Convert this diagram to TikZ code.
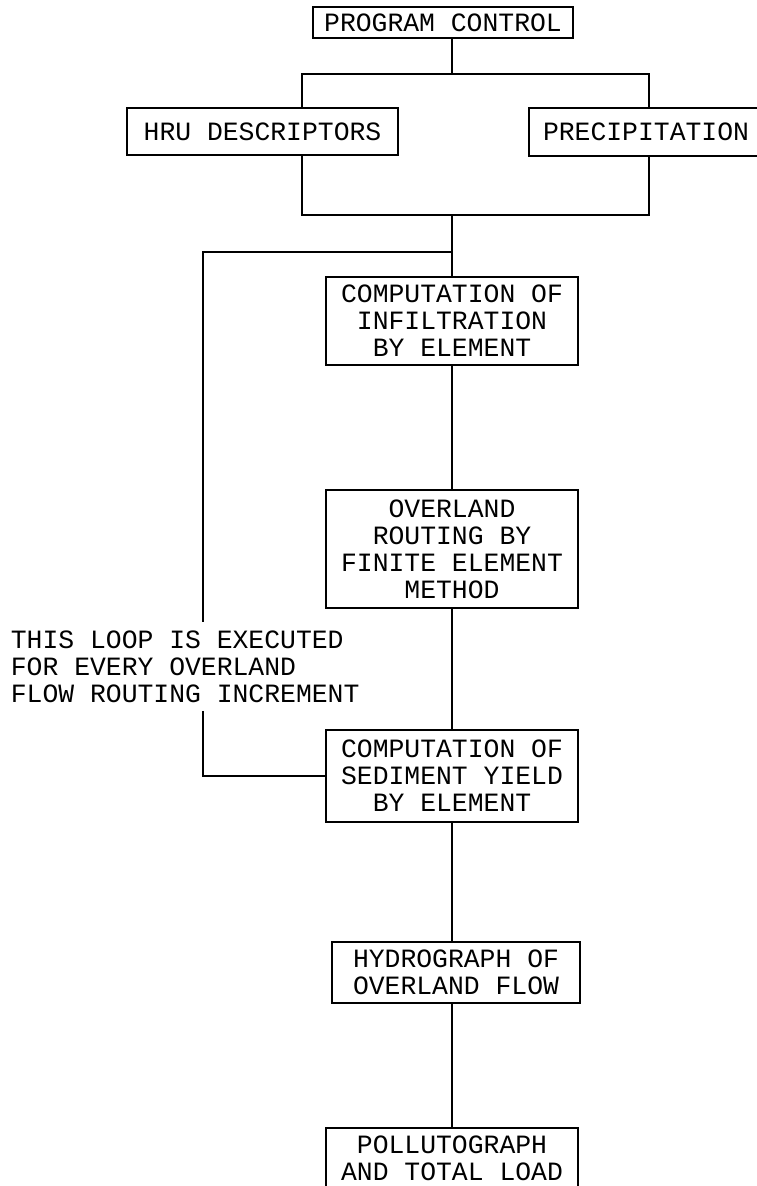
\documentclass[tikz,border=0pt]{standalone}
\usepackage{fontspec}
\newfontfamily\typewriterfont{Liberation Mono}
\usetikzlibrary{positioning}

\begin{document}
\begin{tikzpicture}[
    x=1pt, y=1pt,
    line width=1.8pt,
    every node/.style={font=\typewriterfont\fontsize{26.4}{27}\selectfont},
    stepbox/.style={draw, align=center, inner xsep=4pt, inner ysep=3pt, outer sep=0pt, minimum width=252pt}
]
\useasboundingbox (0,0) rectangle (756,-1186);

% Define nodes
\node (ctrl) [stepbox, minimum width=260pt, minimum height=31pt] at (443,-22.5) {PROGRAM CONTROL};
\node (hru) [stepbox, minimum width=271pt, minimum height=47pt, below=70pt of ctrl, xshift=-180.5pt] {HRU DESCRIPTORS};
\node (precip) [stepbox, minimum width=234pt, minimum height=48pt, below=70pt of ctrl, xshift=203pt] {PRECIPITATION};

\node (infil) [stepbox, minimum height=88pt] at (452,-321) {COMPUTATION OF\\INFILTRATION\\BY ELEMENT};
\node (overland) [stepbox, minimum height=118pt, below=125pt of infil] {OVERLAND\\ROUTING BY\\FINITE ELEMENT\\METHOD};
\node (sediment) [stepbox, minimum height=92pt, below=122pt of overland] {COMPUTATION OF\\SEDIMENT YIELD\\BY ELEMENT};
\node (hydro) [stepbox, minimum width=248pt, minimum height=61pt, below=120pt of sediment, xshift=4pt] {HYDROGRAPH OF\\OVERLAND FLOW};
\node (pollu) [stepbox, minimum height=61pt, below=125pt of hydro, xshift=-4pt] {POLLUTOGRAPH\\AND TOTAL LOAD};

% Loop label
\node (loopnote) [align=left, anchor=west, inner xsep=0pt, inner ysep=7.5pt] at (10,-666.5) {THIS LOOP IS EXECUTED\\FOR EVERY OVERLAND\\FLOW ROUTING INCREMENT};

% Corners of the branch lines
\coordinate (tapL) at (302,-74);
\coordinate (tapR) at (649,-74);
\coordinate (joinL) at (302,-215);
\coordinate (joinR) at (649,-215);
\coordinate (loopTL) at (203,-252);

% Input branches
\draw (ctrl.south -| infil.north) -- (tapL -| infil.north);
\draw (hru.north -| tapL) -- (tapL) -- (tapR) -- (precip.north -| tapR);
\draw (hru.south -| joinL) -- (joinL) -- (joinR) -- (precip.south -| joinR);
\draw (joinL -| infil.north) -- (infil.north);

% Loop back
\draw (infil.north |- loopTL) -- (loopTL) -- (loopnote.north -| loopTL);
\draw (loopnote.south -| loopTL) |- (sediment.west);

% Main edges
\draw (infil) -- (overland);
\draw (overland) -- (sediment);
\draw (sediment) -- (hydro.north -| sediment.south);
\draw (hydro.south -| pollu.north) -- (pollu);

\end{tikzpicture}
\end{document}
